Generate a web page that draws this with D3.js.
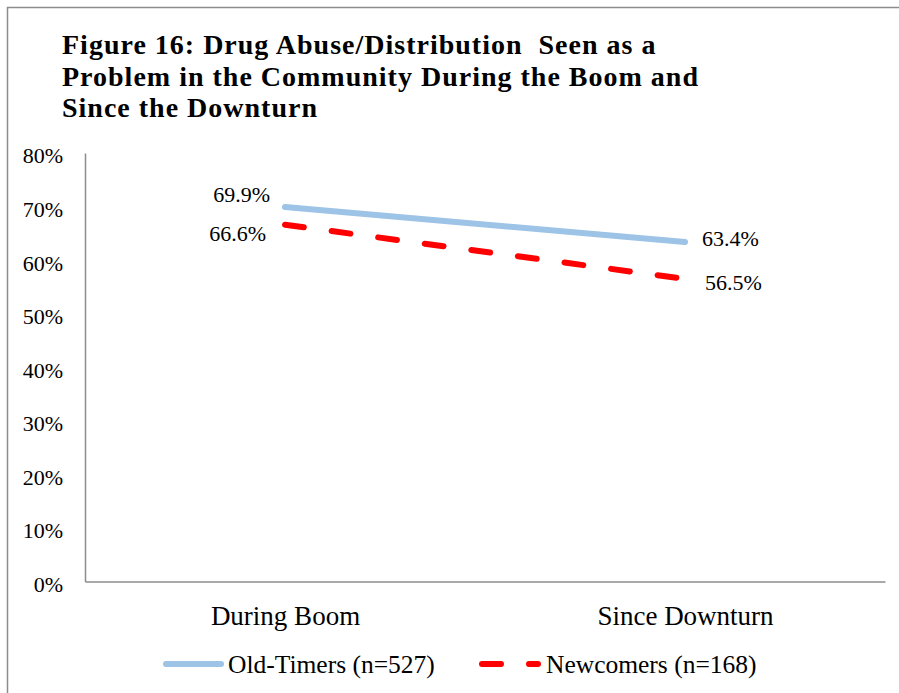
<!DOCTYPE html>
<html lang="en">
<head>
    <meta charset="UTF-8">
    <title>Figure 16</title>
    <script src="https://d3js.org/d3.v7.min.js"></script>
    <style>
        body { margin: 0; background: #fff; }
        text { font-family: "Liberation Serif", serif; fill: #000; }
    </style>
</head>
<body>
    <svg width="899" height="693"></svg>
    <script>
        // chart values
        const titleLines = [
            "Figure 16: Drug Abuse/Distribution  Seen as a",
            "Problem in the Community During the Boom and",
            "Since the Downturn"
        ];
        const categories = ["During Boom", "Since Downturn"];
        const oldTimers = [69.9, 63.4];
        const newcomers = [66.6, 56.5];
        const yTicks = [0, 10, 20, 30, 40, 50, 60, 70, 80];
        const seriesNames = ["Old-Timers (n=527)", "Newcomers (n=168)"];

        const margin = {top: 153, right: 14, bottom: 111.5, left: 85},
              width = 899 - margin.left - margin.right,
              height = 693 - margin.top - margin.bottom;

        const svg = d3.select("svg");

        // outer frame
        svg.append("rect")
            .attr("x", 7.5).attr("y", 7.5)
            .attr("width", 920).attr("height", 720)
            .attr("fill", "none")
            .attr("stroke", "#8c8c8c")
            .attr("stroke-width", 1.5);

        // title
        svg.append("g").selectAll("text")
            .data(titleLines)
            .join("text")
            .attr("x", 62)
            .attr("y", (d, i) => 54 + i * 31.5)
            .attr("font-size", 28)
            .attr("font-weight", "bold")
            .attr("letter-spacing", 1)
            .attr("xml:space", "preserve")
            .text(d => d);

        const g = svg.append("g")
            .attr("transform", `translate(${margin.left},${margin.top})`);

        const x = d3.scalePoint().domain(categories).range([0, width]).padding(0.5);
        const y = d3.scaleLinear().domain([0, 80]).range([height, 0]);

        // y axis
        const yAxis = g.append("g")
            .call(d3.axisLeft(y).tickValues(yTicks).tickSize(0).tickPadding(22)
                .tickFormat(d => d + "%"));
        yAxis.select(".domain").attr("stroke", "#8c8c8c").attr("stroke-width", 1.5);
        yAxis.selectAll("text")
            .attr("font-family", "Liberation Serif")
            .attr("font-size", 22)
            .attr("dy", "0.45em")
            .attr("fill", "#000");

        // x axis
        const xAxis = g.append("g")
            .attr("transform", `translate(0,${height})`)
            .call(d3.axisBottom(x).tickSize(0).tickPadding(24));
        xAxis.select(".domain").attr("stroke", "#8c8c8c").attr("stroke-width", 1.5);
        xAxis.selectAll("text")
            .attr("font-family", "Liberation Serif")
            .attr("font-size", 27)
            .attr("fill", "#000");

        const line = d3.line()
            .x((d, i) => x(categories[i]))
            .y(d => y(d));

        g.append("path")
            .datum(oldTimers)
            .attr("d", line)
            .attr("fill", "none")
            .attr("stroke", "#9dc3e6")
            .attr("stroke-width", 6)
            .attr("stroke-linecap", "round");

        g.append("path")
            .datum(newcomers)
            .attr("d", line)
            .attr("fill", "none")
            .attr("stroke", "#ff0000")
            .attr("stroke-width", 6)
            .attr("stroke-linecap", "round")
            .attr("stroke-dasharray", "19,28");

        // data labels
        const lbl = (val, i, dx, dy, anchor) => g.append("text")
            .attr("x", x(categories[i]) + dx)
            .attr("y", y(val) + dy)
            .attr("text-anchor", anchor)
            .attr("font-size", 22)
            .text(val.toFixed(1) + "%");

        lbl(oldTimers[0], 0, -15, -5, "end");
        lbl(newcomers[0], 0, -19, 16, "end");
        lbl(oldTimers[1], 1, 17, 4, "start");
        lbl(newcomers[1], 1, 20, 11, "start");

        // legend
        const legend = svg.append("g").attr("transform", "translate(0,664)");
        legend.append("line")
            .attr("x1", 166).attr("x2", 221)
            .attr("stroke", "#9dc3e6").attr("stroke-width", 6)
            .attr("stroke-linecap", "round");
        legend.append("text")
            .attr("x", 228).attr("y", 9)
            .attr("font-size", 25.5)
            .text(seriesNames[0]);
        legend.append("line")
            .attr("x1", 482).attr("x2", 538)
            .attr("stroke", "#ff0000").attr("stroke-width", 6)
            .attr("stroke-linecap", "round")
            .attr("stroke-dasharray", "19,28");
        legend.append("text")
            .attr("x", 546).attr("y", 9)
            .attr("font-size", 25.5)
            .text(seriesNames[1]);
    </script>
</body>
</html>
